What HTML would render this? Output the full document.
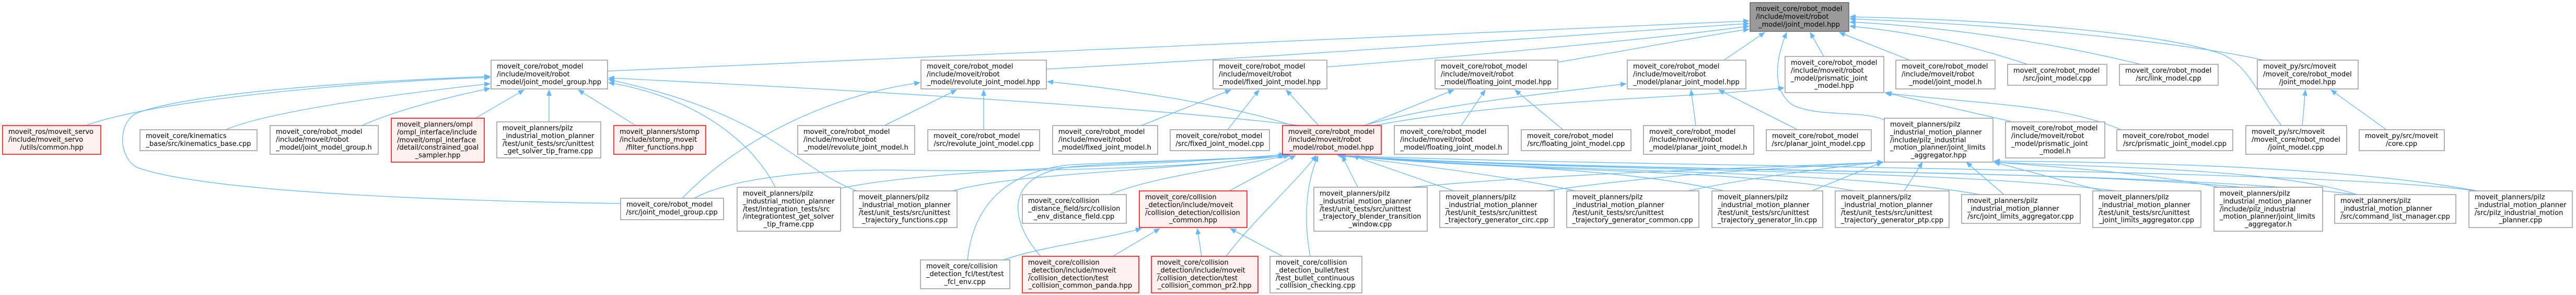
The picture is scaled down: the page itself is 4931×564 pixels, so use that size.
<!DOCTYPE html>
<html><head><meta charset="utf-8"><style>
html,body{margin:0;padding:0;background:#fff;}
svg{display:block;}
text{font-family:"DejaVu Sans","Liberation Sans",sans-serif;font-size:13px;fill:#000;}
.n{fill:#fff;stroke:#999;stroke-width:1.5;}
.r{fill:#fff0f0;stroke:#f00;stroke-width:1.5;}
.g{fill:#999;stroke:#666;stroke-width:1.5;}
.e{fill:none;stroke:#63b8ff;stroke-width:1.3;marker-end:url(#a);}
.m{text-anchor:middle;}
</style></head><body>
<svg width="4931" height="564" viewBox="0 0 4931 564" xmlns="http://www.w3.org/2000/svg">
<defs><marker id="a" markerUnits="userSpaceOnUse" markerWidth="12" markerHeight="10" refX="11" refY="5" orient="auto"><path d="M0,0 L12,5 L0,10 z" fill="#63b8ff"/></marker></defs>
<g>
<path class="e" d="M164,240 C300,190 700,155 938,148"/>
<path class="e" d="M432,248 C520,210 800,175 938,160"/>
<path class="e" d="M693,240 C760,210 860,185 938,169"/>
<path class="e" d="M910,226 L1003,172"/>
<path class="e" d="M1051,233 L1051,172"/>
<path class="e" d="M1217,240 L1107,172"/>
<path class="e" d="M1188,389 C900,385 400,370 262,320 C225,300 225,230 265,215 C380,175 700,155 938,146"/>
<path class="e" d="M1484,358 C1440,270 1330,185 1165,158"/>
<path class="e" d="M1640,365 C1520,320 1480,220 1165,152"/>
<path class="e" d="M1163,136 C2000,100 3000,50 3348,40"/>
<path class="e" d="M2489,240 C2200,205 1600,170 1165,149"/>
<path class="e" d="M1306,379 C1420,260 1600,180 1761,158"/>
<path class="e" d="M1329,379 C1400,340 1550,326 1700,325 C2000,330 2300,320 2457,297"/>
<path class="e" d="M1693,240 L1831,172"/>
<path class="e" d="M1883,248 L1883,172"/>
<path class="e" d="M2475,240 C2350,200 2150,170 2005,156"/>
<path class="e" d="M2003,132 C2600,100 3100,60 3348,45"/>
<path class="e" d="M2185,240 L2356,172"/>
<path class="e" d="M2350,248 L2410,172"/>
<path class="e" d="M2524,240 L2462,172"/>
<path class="e" d="M2540,128 C2900,100 3200,70 3348,50"/>
<path class="e" d="M2797,240 L2843,172"/>
<path class="e" d="M2992,248 L2900,172"/>
<path class="e" d="M2612,240 L2783,172"/>
<path class="e" d="M2982,119 C3150,90 3300,62 3348,56"/>
<path class="e" d="M3246,240 L3237,172"/>
<path class="e" d="M3441,248 L3290,172"/>
<path class="e" d="M2610,240 C2750,200 2950,180 3113,160"/>
<path class="e" d="M3300,115 L3378,62"/>
<path class="e" d="M2630,240 C2900,190 3200,190 3415,168"/>
<path class="e" d="M3849,232 L3608,177"/>
<path class="e" d="M4060,248 C3950,200 3800,200 3610,178"/>
<path class="e" d="M3491,108 L3465,62"/>
<path class="e" d="M3656,115 L3521,62"/>
<path class="e" d="M3881,123 C3750,80 3650,60 3541,50"/>
<path class="e" d="M4098,123 C3900,75 3700,50 3541,42"/>
<path class="e" d="M4333,115 C4200,85 3900,50 3541,36"/>
<path class="e" d="M4367,240 C4320,180 4300,110 4232,97 C4150,70 3900,40 3541,32"/>
<path class="e" d="M3607,229 C3560,210 3480,225 3430,200 C3390,170 3400,110 3420,62"/>
<path class="e" d="M4407,240 L4413,172"/>
<path class="e" d="M4568,248 L4462,172"/>
<path class="e" d="M2124,372 C2200,340 2350,320 2468,297"/>
<path class="e" d="M2353,365 L2480,297"/>
<path class="e" d="M1852,497 C1860,420 1900,330 2050,315 C2250,305 2400,305 2462,297"/>
<path class="e" d="M1992,490 C1930,420 1920,330 2060,318 C2250,305 2420,302 2470,297"/>
<path class="e" d="M2347,490 C2400,420 2470,360 2520,297"/>
<path class="e" d="M2508,490 C2495,420 2500,350 2523,298"/>
<path class="e" d="M2599,358 L2569,298"/>
<path class="e" d="M2783,365 L2590,298"/>
<path class="e" d="M3016,365 C2900,340 2750,320 2560,297"/>
<path class="e" d="M3300,365 C3100,320 2850,320 2560,297"/>
<path class="e" d="M3550,365 C3300,320 2900,330 2565,297"/>
<path class="e" d="M3790,372 C3500,320 2900,330 2565,297"/>
<path class="e" d="M4050,365 C3700,320 3000,330 2565,297"/>
<path class="e" d="M4290,358 C3900,320 3000,330 2565,297"/>
<path class="e" d="M4510,372 C4100,320 3000,330 2565,297"/>
<path class="e" d="M4742,365 C4400,320 3100,320 2565,297"/>
<path class="e" d="M1823,365 C1950,330 2200,330 2460,297"/>
<path class="e" d="M1609,360 C1800,320 2200,320 2460,295"/>
<path class="e" d="M3468,365 L3603,310"/>
<path class="e" d="M3645,365 L3680,310"/>
<path class="e" d="M3836,372 L3764,310"/>
<path class="e" d="M4024,365 L3817,310"/>
<path class="e" d="M4248,358 C4100,330 3950,320 3817,310"/>
<path class="e" d="M4512,372 C4350,320 4000,320 3817,310"/>
<path class="e" d="M4742,365 C4500,320 4100,310 3817,308"/>
<path class="e" d="M2960,365 C3200,330 3450,320 3605,310"/>
<path class="e" d="M3230,365 C3350,340 3500,320 3605,310"/>
<path class="e" d="M2700,358 C3000,330 3400,320 3605,310"/>
<path class="e" d="M1920,497 C2000,470 2100,460 2185,437"/>
<path class="e" d="M2130,490 L2220,437"/>
<path class="e" d="M2300,490 L2292,437"/>
<path class="e" d="M2455,490 L2355,437"/>
</g>
<g>
<rect class="r" x="5" y="240" width="188" height="55"/>
<text x="16" y="256">moveit_ros/moveit_servo</text><text x="16" y="271">/include/moveit_servo</text><text class="m" x="99" y="286">/utils/common.hpp</text>
<rect class="n" x="268" y="248" width="224" height="40"/>
<text x="279" y="264">moveit_core/kinematics</text><text class="m" x="380" y="279">_base/src/kinematics_base.cpp</text>
<rect class="n" x="517" y="240" width="207" height="55"/>
<text x="528" y="256">moveit_core/robot_model</text><text x="528" y="271">/include/moveit/robot</text><text class="m" x="620" y="286">_model/joint_model_group.h</text>
<rect class="r" x="749" y="226" width="178" height="84"/>
<text x="760" y="242">moveit_planners/ompl</text><text x="760" y="257">/ompl_interface/include</text><text x="760" y="272">/moveit/ompl_interface</text><text x="760" y="286">/detail/constrained_goal</text><text class="m" x="838" y="301">_sampler.hpp</text>
<rect class="n" x="940" y="115" width="223" height="55"/>
<text x="951" y="131">moveit_core/robot_model</text><text x="951" y="146">/include/moveit/robot</text><text class="m" x="1051" y="161">_model/joint_model_group.hpp</text>
<rect class="n" x="951" y="233" width="199" height="69"/>
<text x="962" y="249">moveit_planners/pilz</text><text x="962" y="264">_industrial_motion_planner</text><text x="962" y="279">/test/unit_tests/src/unittest</text><text class="m" x="1050" y="293">_get_solver_tip_frame.cpp</text>
<rect class="r" x="1175" y="240" width="176" height="55"/>
<text x="1186" y="256">moveit_planners/stomp</text><text x="1186" y="271">/include/stomp_moveit</text><text class="m" x="1263" y="286">/filter_functions.hpp</text>
<rect class="n" x="1188" y="379" width="197" height="41"/>
<text x="1199" y="395">moveit_core/robot_model</text><text class="m" x="1286" y="410">/src/joint_model_group.cpp</text>
<rect class="n" x="1411" y="358" width="198" height="84"/>
<text x="1422" y="374">moveit_planners/pilz</text><text x="1422" y="389">_industrial_motion_planner</text><text x="1422" y="404">/test/integration_tests/src</text><text x="1422" y="418">/integrationtest_get_solver</text><text class="m" x="1510" y="433">_tip_frame.cpp</text>
<rect class="n" x="1527" y="240" width="224" height="55"/>
<text x="1538" y="256">moveit_core/robot_model</text><text x="1538" y="271">/include/moveit/robot</text><text class="m" x="1639" y="286">_model/revolute_joint_model.h</text>
<rect class="n" x="1633" y="365" width="199" height="70"/>
<text x="1644" y="381">moveit_planners/pilz</text><text x="1644" y="396">_industrial_motion_planner</text><text x="1644" y="411">/test/unit_tests/src/unittest</text><text class="m" x="1732" y="425">_trajectory_functions.cpp</text>
<rect class="n" x="1763" y="115" width="240" height="55"/>
<text x="1774" y="131">moveit_core/robot_model</text><text x="1774" y="146">/include/moveit/robot</text><text class="m" x="1883" y="161">_model/revolute_joint_model.hpp</text>
<rect class="n" x="1776" y="248" width="214" height="40"/>
<text x="1787" y="264">moveit_core/robot_model</text><text class="m" x="1883" y="279">/src/revolute_joint_model.cpp</text>
<rect class="n" x="2015" y="240" width="201" height="55"/>
<text x="2026" y="256">moveit_core/robot_model</text><text x="2026" y="271">/include/moveit/robot</text><text class="m" x="2115" y="286">_model/fixed_joint_model.h</text>
<rect class="n" x="2240" y="248" width="190" height="40"/>
<text x="2251" y="264">moveit_core/robot_model</text><text class="m" x="2335" y="279">/src/fixed_joint_model.cpp</text>
<rect class="n" x="2322" y="115" width="218" height="55"/>
<text x="2333" y="131">moveit_core/robot_model</text><text x="2333" y="146">/include/moveit/robot</text><text class="m" x="2431" y="161">_model/fixed_joint_model.hpp</text>
<rect class="r" x="2455" y="240" width="189" height="55"/>
<text x="2466" y="256">moveit_core/robot_model</text><text x="2466" y="271">/include/moveit/robot</text><text class="m" x="2549" y="286">_model/robot_model.hpp</text>
<rect class="n" x="1957" y="372" width="199" height="55"/>
<text x="1968" y="388">moveit_core/collision</text><text x="1968" y="403">_distance_field/src/collision</text><text class="m" x="2056" y="418">_env_distance_field.cpp</text>
<rect class="r" x="2181" y="365" width="206" height="70"/>
<text x="2192" y="381">moveit_core/collision</text><text x="2192" y="396">_detection/include/moveit</text><text x="2192" y="411">/collision_detection/collision</text><text class="m" x="2284" y="425">_common.hpp</text>
<rect class="n" x="1762" y="497" width="171" height="55"/>
<text x="1773" y="513">moveit_core/collision</text><text x="1773" y="528">_detection_fcl/test/test</text><text class="m" x="1847" y="543">_fcl_env.cpp</text>
<rect class="r" x="1957" y="490" width="223" height="70"/>
<text x="1968" y="506">moveit_core/collision</text><text x="1968" y="521">_detection/include/moveit</text><text x="1968" y="536">/collision_detection/test</text><text class="m" x="2068" y="550">_collision_common_panda.hpp</text>
<rect class="r" x="2204" y="490" width="204" height="70"/>
<text x="2215" y="506">moveit_core/collision</text><text x="2215" y="521">_detection/include/moveit</text><text x="2215" y="536">/collision_detection/test</text><text class="m" x="2306" y="550">_collision_common_pr2.hpp</text>
<rect class="n" x="2431" y="490" width="176" height="70"/>
<text x="2442" y="506">moveit_core/collision</text><text x="2442" y="521">_detection_bullet/test</text><text x="2442" y="536">/test_bullet_continuous</text><text class="m" x="2519" y="550">_collision_checking.cpp</text>
<rect class="n" x="2747" y="115" width="235" height="55"/>
<text x="2758" y="131">moveit_core/robot_model</text><text x="2758" y="146">/include/moveit/robot</text><text class="m" x="2864" y="161">_model/floating_joint_model.hpp</text>
<rect class="n" x="2669" y="240" width="218" height="55"/>
<text x="2680" y="256">moveit_core/robot_model</text><text x="2680" y="271">/include/moveit/robot</text><text class="m" x="2778" y="286">_model/floating_joint_model.h</text>
<rect class="n" x="2912" y="248" width="210" height="40"/>
<text x="2923" y="264">moveit_core/robot_model</text><text class="m" x="3017" y="279">/src/floating_joint_model.cpp</text>
<rect class="n" x="3115" y="115" width="227" height="55"/>
<text x="3126" y="131">moveit_core/robot_model</text><text x="3126" y="146">/include/moveit/robot</text><text class="m" x="3228" y="161">_model/planar_joint_model.hpp</text>
<rect class="n" x="3146" y="240" width="211" height="55"/>
<text x="3157" y="256">moveit_core/robot_model</text><text x="3157" y="271">/include/moveit/robot</text><text class="m" x="3251" y="286">_model/planar_joint_model.h</text>
<rect class="n" x="2515" y="358" width="217" height="84"/>
<text x="2526" y="374">moveit_planners/pilz</text><text x="2526" y="389">_industrial_motion_planner</text><text x="2526" y="404">/test/unit_tests/src/unittest</text><text x="2526" y="418">_trajectory_blender_transition</text><text class="m" x="2623" y="433">_window.cpp</text>
<rect class="n" x="2756" y="365" width="219" height="70"/>
<text x="2767" y="381">moveit_planners/pilz</text><text x="2767" y="396">_industrial_motion_planner</text><text x="2767" y="411">/test/unit_tests/src/unittest</text><text class="m" x="2865" y="425">_trajectory_generator_circ.cpp</text>
<rect class="n" x="2999" y="365" width="253" height="70"/>
<text x="3010" y="381">moveit_planners/pilz</text><text x="3010" y="396">_industrial_motion_planner</text><text x="3010" y="411">/test/unit_tests/src/unittest</text><text class="m" x="3125" y="425">_trajectory_generator_common.cpp</text>
<rect class="n" x="3277" y="365" width="212" height="70"/>
<text x="3288" y="381">moveit_planners/pilz</text><text x="3288" y="396">_industrial_motion_planner</text><text x="3288" y="411">/test/unit_tests/src/unittest</text><text class="m" x="3383" y="425">_trajectory_generator_lin.cpp</text>
<rect class="g" x="3350" y="5" width="189" height="55"/>
<text x="3361" y="21">moveit_core/robot_model</text><text x="3361" y="36">/include/moveit/robot</text><text class="m" x="3444" y="51">_model/joint_model.hpp</text>
<rect class="n" x="3417" y="108" width="189" height="69"/>
<text x="3428" y="124">moveit_core/robot_model</text><text x="3428" y="139">/include/moveit/robot</text><text x="3428" y="154">_model/prismatic_joint</text><text class="m" x="3511" y="168">_model.hpp</text>
<rect class="n" x="3629" y="115" width="190" height="55"/>
<text x="3640" y="131">moveit_core/robot_model</text><text x="3640" y="146">/include/moveit/robot</text><text class="m" x="3724" y="161">_model/joint_model.h</text>
<rect class="n" x="3843" y="123" width="190" height="40"/>
<text x="3854" y="139">moveit_core/robot_model</text><text class="m" x="3938" y="154">/src/joint_model.cpp</text>
<rect class="n" x="4057" y="123" width="189" height="40"/>
<text x="4068" y="139">moveit_core/robot_model</text><text class="m" x="4151" y="154">/src/link_model.cpp</text>
<rect class="n" x="3381" y="248" width="201" height="40"/>
<text x="3392" y="264">moveit_core/robot_model</text><text class="m" x="3481" y="279">/src/planar_joint_model.cpp</text>
<rect class="n" x="3607" y="226" width="208" height="84"/>
<text x="3618" y="242">moveit_planners/pilz</text><text x="3618" y="257">_industrial_motion_planner</text><text x="3618" y="272">/include/pilz_industrial</text><text x="3618" y="286">_motion_planner/joint_limits</text><text class="m" x="3711" y="301">_aggregator.hpp</text>
<rect class="n" x="3839" y="233" width="190" height="69"/>
<text x="3850" y="249">moveit_core/robot_model</text><text x="3850" y="264">/include/moveit/robot</text><text x="3850" y="279">_model/prismatic_joint</text><text class="m" x="3934" y="293">_model.h</text>
<rect class="n" x="4052" y="248" width="222" height="40"/>
<text x="4063" y="264">moveit_core/robot_model</text><text class="m" x="4163" y="279">/src/prismatic_joint_model.cpp</text>
<rect class="n" x="3513" y="365" width="218" height="70"/>
<text x="3524" y="381">moveit_planners/pilz</text><text x="3524" y="396">_industrial_motion_planner</text><text x="3524" y="411">/test/unit_tests/src/unittest</text><text class="m" x="3622" y="425">_trajectory_generator_ptp.cpp</text>
<rect class="n" x="3755" y="372" width="227" height="55"/>
<text x="3766" y="388">moveit_planners/pilz</text><text x="3766" y="403">_industrial_motion_planner</text><text class="m" x="3868" y="418">/src/joint_limits_aggregator.cpp</text>
<rect class="n" x="4006" y="365" width="207" height="70"/>
<text x="4017" y="381">moveit_planners/pilz</text><text x="4017" y="396">_industrial_motion_planner</text><text x="4017" y="411">/test/unit_tests/src/unittest</text><text class="m" x="4109" y="425">_joint_limits_aggregator.cpp</text>
<rect class="n" x="4321" y="115" width="193" height="55"/>
<text x="4332" y="131">moveit_py/src/moveit</text><text x="4332" y="146">/moveit_core/robot_model</text><text class="m" x="4417" y="161">/joint_model.hpp</text>
<rect class="n" x="4299" y="240" width="193" height="55"/>
<text x="4310" y="256">moveit_py/src/moveit</text><text x="4310" y="271">/moveit_core/robot_model</text><text class="m" x="4395" y="286">/joint_model.cpp</text>
<rect class="n" x="4516" y="248" width="163" height="40"/>
<text x="4527" y="264">moveit_py/src/moveit</text><text class="m" x="4597" y="279">/core.cpp</text>
<rect class="n" x="4238" y="358" width="208" height="84"/>
<text x="4249" y="374">moveit_planners/pilz</text><text x="4249" y="389">_industrial_motion_planner</text><text x="4249" y="404">/include/pilz_industrial</text><text x="4249" y="418">_motion_planner/joint_limits</text><text class="m" x="4342" y="433">_aggregator.h</text>
<rect class="n" x="4469" y="372" width="232" height="55"/>
<text x="4480" y="388">moveit_planners/pilz</text><text x="4480" y="403">_industrial_motion_planner</text><text class="m" x="4585" y="418">/src/command_list_manager.cpp</text>
<rect class="n" x="4726" y="365" width="198" height="70"/>
<text x="4737" y="381">moveit_planners/pilz</text><text x="4737" y="396">_industrial_motion_planner</text><text x="4737" y="411">/src/pilz_industrial_motion</text><text class="m" x="4825" y="425">_planner.cpp</text>
</g>
</svg>
</body></html>
